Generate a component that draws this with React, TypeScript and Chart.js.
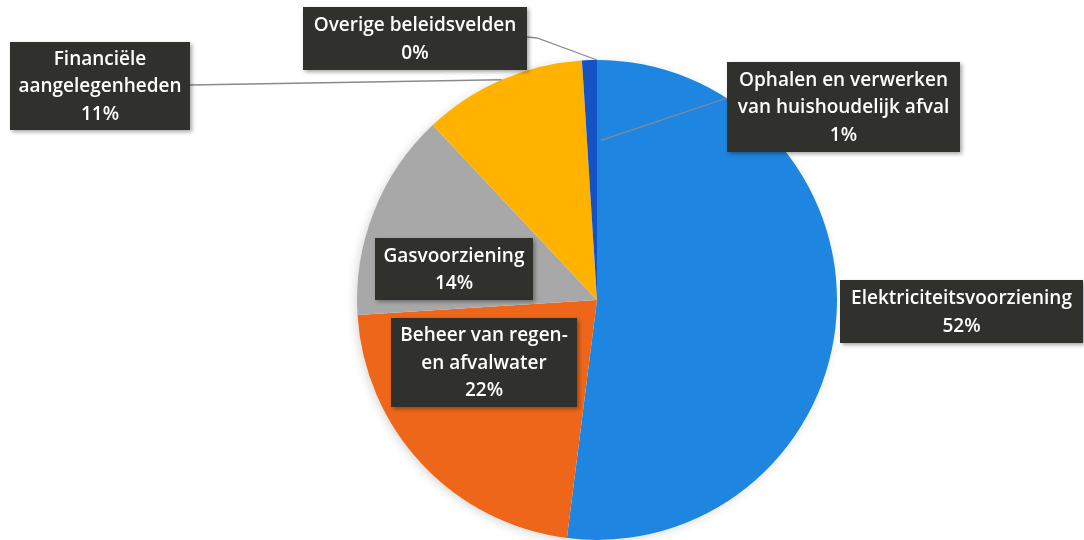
import React, { useEffect, useRef } from "react";
import { Chart, registerables } from "chart.js";

Chart.register(...registerables);

// ---- data ----
const categories = [
  "Elektriciteitsvoorziening",
  "Beheer van regen- en afvalwater",
  "Gasvoorziening",
  "Financiële aangelegenheden",
  "Ophalen en verwerken van huishoudelijk afval",
  "Overige beleidsvelden",
];
const values = [52, 22, 14, 11, 1, 0];
const percentLabels = ["52%", "22%", "14%", "11%", "1%", "0%"];
const labelLines = [
  ["Elektriciteitsvoorziening"],
  ["Beheer van regen-", "en afvalwater"],
  ["Gasvoorziening"],
  ["Financiële", "aangelegenheden"],
  ["Ophalen en verwerken", "van huishoudelijk afval"],
  ["Overige beleidsvelden"],
];
const sliceColors = ["#1E86E0", "#EE661A", "#A8A8A8", "#FFB300", "#1553C4", "#4A7FC8"];

// ---- label layout (annotation boxes: x, y, w, h) ----
const boxes = [
  { x: 840, y: 280, w: 243, h: 63 },
  { x: 391, y: 318, w: 186, h: 89 },
  { x: 375, y: 238, w: 158, h: 62 },
  { x: 10, y: 42, w: 180, h: 88 },
  { x: 727, y: 62, w: 233, h: 90 },
  { x: 303, y: 7, w: 224, h: 63 },
];

const labelPlugin = {
  id: "boxLabels",
  beforeDatasetsDraw(chart: any) {
    const meta = chart.getDatasetMeta(0);
    const arc = meta.data[0];
    if (!arc) return;
    const { x, y, outerRadius } = arc.getProps(["x", "y", "outerRadius"], true);
    const ctx = chart.ctx;
    ctx.save();
    ctx.shadowColor = "rgba(0,0,0,0.15)";
    ctx.shadowBlur = 10;
    ctx.shadowOffsetX = -2;
    ctx.shadowOffsetY = 2;
    ctx.fillStyle = "#ffffff";
    ctx.beginPath();
    ctx.arc(x, y, outerRadius, 0, Math.PI * 2);
    ctx.fill();
    ctx.restore();
  },
  afterDatasetsDraw(chart: any) {
    const ctx = chart.ctx;
    const meta = chart.getDatasetMeta(0);
    const arcPoint = (i: number, frac: number, which: "mid" | "end") => {
      const a = meta.data[i].getProps(["x", "y", "startAngle", "endAngle", "outerRadius"], true);
      const ang = which === "mid" ? (a.startAngle + a.endAngle) / 2 : a.endAngle;
      return { x: a.x + Math.cos(ang) * a.outerRadius * frac, y: a.y + Math.sin(ang) * a.outerRadius * frac };
    };
    const c = meta.data[0].getProps(["x", "y", "outerRadius"], true);

    // leader lines
    ctx.save();
    ctx.strokeStyle = "#8a8a8a";
    ctx.lineWidth = 1.3;
    const fin = arcPoint(3, 1, "mid");
    ctx.beginPath();
    ctx.moveTo(boxes[3].x + boxes[3].w, 85);
    ctx.lineTo(fin.x, fin.y);
    ctx.stroke();
    const ov = arcPoint(5, 1, "end");
    ctx.beginPath();
    ctx.moveTo(boxes[5].x + boxes[5].w, 37);
    ctx.lineTo(boxes[5].x + boxes[5].w + 10, 38);
    ctx.lineTo(ov.x, ov.y);
    ctx.stroke();
    ctx.beginPath();
    ctx.moveTo(boxes[4].x, 98);
    ctx.lineTo(c.x + 4, c.y - c.outerRadius * 0.665);
    ctx.stroke();
    ctx.restore();

    // boxes
    for (let i = 0; i < boxes.length; i++) {
      const b = boxes[i];
      ctx.save();
      ctx.shadowColor = "rgba(0,0,0,0.35)";
      ctx.shadowBlur = 4;
      ctx.shadowOffsetX = 2;
      ctx.shadowOffsetY = 2;
      ctx.fillStyle = "#30302c";
      ctx.fillRect(b.x, b.y, b.w, b.h);
      ctx.restore();

      const lines = [...labelLines[i], percentLabels[i]];
      const lh = 27.5;
      ctx.save();
      ctx.fillStyle = "#ffffff";
      ctx.font = "600 19px 'Open Sans'";
      ctx.textAlign = "center";
      ctx.textBaseline = "middle";
      const cx = b.x + b.w / 2;
      const cy = b.y + b.h / 2;
      const startY = cy - ((lines.length - 1) * lh) / 2;
      lines.forEach((t, k) => ctx.fillText(t, cx, startY + k * lh + 1));
      ctx.restore();
    }
  },
};

export default function App() {
  const ref = useRef<HTMLCanvasElement | null>(null);
  useEffect(() => {
    document.body.style.margin = "0";
    if (!ref.current) return;
    const chart = new Chart(ref.current, {
      type: "pie",
      data: {
        labels: categories,
        datasets: [
          {
            data: values,
            backgroundColor: sliceColors,
            borderWidth: 0,
          },
        ],
      },
      options: {
        animation: false,
        responsive: true,
        maintainAspectRatio: false,
        layout: { padding: { top: 60, bottom: 0, left: 230, right: 120 } },
        plugins: {
          legend: { display: false },
          tooltip: { enabled: false },
        },
      },
      plugins: [labelPlugin],
    });
    return () => chart.destroy();
  }, []);
  return (
    <div style={{ position: "fixed", left: 0, top: 0, width: 1084, height: 540, background: "#ffffff" }}>
      <canvas ref={ref} />
    </div>
  );
}
